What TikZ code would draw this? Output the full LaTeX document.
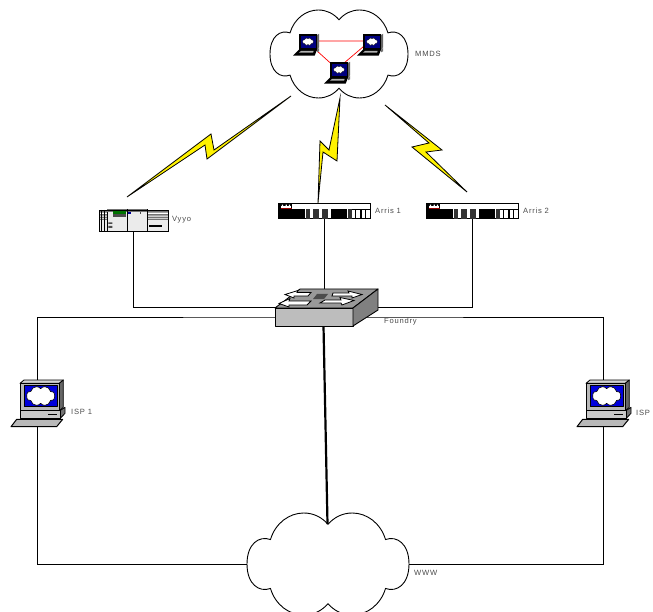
\documentclass[tikz,border=0pt]{standalone}
\usepackage{fontspec}
\setmainfont{Liberation Sans}[LetterSpace=10]
\definecolor{swtop}{gray}{0.6}
\definecolor{swfront}{gray}{0.74}
\definecolor{swside}{gray}{0.5}
\definecolor{pcgrey}{gray}{0.72}
\definecolor{scr}{RGB}{0,0,220}
\definecolor{labelc}{gray}{0.3}
\newcommand{\cloudoutline}{%
  \draw[fill=white]
      (0,-.78) .. controls (.08,-.92) and (.18,-1) .. (.30,-1)
      .. controls (.48,-1) and (.65,-.8) .. (.71,-.48)
      .. controls (.85,-.56) and (1,-.4) .. (1,0)
      .. controls (1,.4) and (.85,.56) .. (.71,.48)
      .. controls (.65,.8) and (.48,1) .. (.30,1)
      .. controls (.18,1) and (.08,.92) .. (0,.78)
      .. controls (-.08,.92) and (-.18,1) .. (-.30,1)
      .. controls (-.48,1) and (-.65,.8) .. (-.71,.48)
      .. controls (-.85,.56) and (-1,.4) .. (-1,0)
      .. controls (-1,-.4) and (-.85,-.56) .. (-.71,-.48)
      .. controls (-.65,-.8) and (-.48,-1) .. (-.30,-1)
      .. controls (-.18,-1) and (-.08,-.92) .. (0,-.78) -- cycle;
}
\tikzset{
  box/.style={inner sep=0pt,outer sep=0pt,minimum width=#1},
  lbl/.style={anchor=west,inner sep=0pt,text=labelc,font=\fontsize{7.6}{9}\selectfont},
  wire/.style={line width=0.65pt,black},
  bolt/.style={draw=black,fill=yellow,line width=0.8pt,line join=miter,miter limit=20},
  cloudicon/.pic={\cloudoutline},
  switchicon/.pic={
    \draw[line width=0.9pt,fill=swtop,line join=round] (0,19) -- (25,0) -- (103,0) -- (78,19) -- cycle;
    \draw[line width=0.9pt,fill=swfront,line join=round] (0,19) rectangle (78,37);
    \draw[line width=0.9pt,fill=swside,line join=round] (78,19) -- (103,0) -- (103,21) -- (78,37) -- cycle;
    \fill[black!70] (42,5) -- (53,5) -- (49,10) -- (38,10) -- cycle;
    \draw[fill=white,line width=0.8pt,line join=miter]
      (58,4) -- (74,4) -- (73,2) -- (87,5.5) -- (77,9) -- (77,7) -- (57,7) -- cycle;
    \draw[fill=white,line width=0.8pt,line join=miter]
      (36,3.5) -- (22,3.5) -- (23,1.5) -- (10,5.5) -- (19,9) -- (19,7) -- (33,7) -- cycle;
    \draw[fill=white,line width=0.8pt,line join=miter]
      (50,11) -- (66,11) -- (65,8.5) -- (79,11.5) -- (67,16) -- (66,14) -- (45,14) -- cycle;
    \draw[fill=white,line width=0.8pt,line join=miter]
      (28,12) -- (14,12) -- (15,9.5) -- (4,14.5) -- (14,18) -- (14,16) -- (32,16) -- (36,12) -- cycle;
  },
  laptopicon/.pic={
    \begin{scope}[scale=1/3]
      \fill[black!60] (72,3) -- (78,0) -- (78,40) -- (72,47) -- cycle;
      \fill[black] (18,0) rectangle (72,47);
      \fill[blue!50!black] (23,5) rectangle (68,42);
      \begin{scope}[shift={(45,23)},xscale=16,yscale=11,line width=0.3pt]\cloudoutline\end{scope}
      \fill[black!55] (72,47) -- (78,42) -- (78,52) -- (72,55) -- cycle;
      \fill[black] (0,65) -- (18,47) -- (72,47) -- (65,65) -- cycle;
      \fill[white!70!black] (24,51) -- (62,51) -- (60,56) -- (18,56) -- cycle;
    \end{scope}
  },
  pcicon/.pic={
    \begin{scope}[scale=1/3,shift={(-33,-30)},line join=round]
      \draw[line width=0.8pt,fill=pcgrey!60] (60,40) -- (72,30) -- (190,30) -- (178,40) -- cycle;
      \draw[line width=0.8pt,fill=black!60] (178,40) -- (190,30) -- (190,112) -- (178,122) -- cycle;
      \draw[line width=0.8pt,fill=pcgrey] (60,40) rectangle (178,122);
      \draw[line width=1pt,fill=scr] (72,46) rectangle (172,110);
      \begin{scope}[shift={(122,78)},xscale=42,yscale=28,line width=0.6pt]\cloudoutline\end{scope}
      \draw[line width=0.8pt,fill=black!55] (180,122) -- (195,112) -- (195,130) -- (180,146) -- cycle;
      \draw[line width=0.8pt,fill=pcgrey!75] (60,122) rectangle (180,146);
      \draw[line width=0.8pt] (145,134) -- (170,134);
      \draw[line width=1pt,fill=pcgrey] (33,170) -- (50,148) -- (188,148) -- (170,170) -- cycle;
    \end{scope}
  },
  arrisicon/.pic={
    \begin{scope}[scale=1/3,shift={(-290,-341)}]
      \draw[line width=0.8pt,fill=white] (290,341) rectangle (565,388);
      \fill[black] (290,360) rectangle (370,388);
      \fill[black!80] (372,360) rectangle (384,388);
      \fill[black!80] (393,360) rectangle (410,388);
      \fill[black!80] (420,360) rectangle (438,388);
      \fill[black] (447,360) rectangle (495,388);
      \fill[black!80] (497,360) rectangle (510,388);
      \draw[line width=0.6pt] (510,360) -- (565,360);
      \draw[line width=0.7pt] (522,360) rectangle (535,388) (538,360) rectangle (550,388) (552,360) rectangle (565,388);
      \fill[black] (292,343) rectangle (330,360);
      \fill[white] (297,350) rectangle (328,355);
      \fill[white] (300,346) rectangle (304,350) (311,346) rectangle (315,350) (321,346) rectangle (325,350);
      \fill[red!60!black] (296,355) rectangle (329,358);
    \end{scope}
  },
  vyyoicon/.pic={
    \begin{scope}[scale=1/3,shift={(-28,-358)},line width=0.6pt]
      \draw[line width=0.8pt,fill=black!8] (28,361) rectangle (235,425);
      \fill[black!55] (28,364) rectangle (235,390);
      \fill[white] (28,369) rectangle (235,373) (28,378) rectangle (235,381) (28,386) rectangle (235,388);
      \draw (36,361) -- (36,425) (45,361) -- (45,425);
      \fill[black!8] (172,390) rectangle (235,425);
      \draw[line width=0.8pt,fill=black!8] (52,358) rectangle (172,425);
      \fill[black!55] (52,358) rectangle (172,366);
      \draw[line width=0.8pt] (112,358) -- (112,425);
      \fill[green!45!black] (70,365) rectangle (108,374);
      \fill[black!70] (70,374) rectangle (108,381);
      \fill[blue!60!black] (115,367) rectangle (124,373);
      \fill[black!70] (152,366) rectangle (155,373);
      \fill[black!70] (56,398) rectangle (68,403) (56,409) rectangle (68,415);
      \fill[black] (178,405) rectangle (216,412);
      \draw[line width=0.8pt] (28,361) rectangle (235,425);
    \end{scope}
  }
}
\begin{document}
\begin{tikzpicture}[x=1pt,y=-1pt]
\useasboundingbox (0,0) rectangle (653,612);
\clip (0,0) rectangle (653,612);
\fill[white] (0,0) rectangle (653,612);
% invisible anchor nodes
\node[box=138pt,minimum height=88pt] (mmds) at (339,54) {};
\node[box=162pt,minimum height=102pt] (www) at (328,564) {};
\node[box=103pt,minimum height=37pt] (sw) at (326.5,307.5) {};
\node[box=69pt,minimum height=23pt] (vyyo) at (133.5,220.5) {};
\node[box=92pt,minimum height=16pt] (arris1) at (324.5,211) {};
\node[box=92pt,minimum height=16pt] (arris2) at (472.5,211) {};
\node[box=53pt,minimum height=47pt] (isp1) at (37.5,403.5) {};
\node[box=53pt,minimum height=47pt] (isp2) at (603.5,403.5) {};
\node[box=26pt,minimum height=14pt] (lap1) at (306,41) {};
\node[box=26pt,minimum height=14pt] (lap2) at (370,41) {};
\node[box=26pt,minimum height=14pt] (lap3) at (337,69) {};
\coordinate (hub) at (326,317);
\coordinate (swfoot) at (323.5,326);
\coordinate (wwwnotch) at (327.5,524);
% connectors
\draw[wire] (vyyo.south) |- (sw.west);
\draw[wire] (arris2.south) |- (sw.east);
\draw[wire] (arris1.south) -- (arris1.south |- sw.north);
\draw[wire] (isp1.north) |- (hub) -| (isp2.north);
\draw[wire] (isp1.south) |- (www.west);
\draw[wire] (isp2.south) |- (www.east);
% clouds
\pic[xscale=69,yscale=44,line width=0.9pt] at (mmds.center) {cloudicon};
\pic[xscale=81,yscale=51,line width=0.9pt] at (www.center) {cloudicon};
\draw[line width=2.2pt,black] (swfoot) -- (wwwnotch);
% mesh inside MMDS
\draw[red,line width=0.7pt] (lap1.center) -- (lap2.center) -- (lap3.center) -- cycle;
\pic at (lap1.north west) {laptopicon};
\pic at (lap2.north west) {laptopicon};
\pic at (lap3.north west) {laptopicon};
% wireless bolts
\draw[bolt] (127,197) -- (211,134) -- (214,150) -- (291,96) -- (207,159) -- (205,145) -- cycle;
\draw[bolt] (318,203) -- (320,141) -- (329,150) -- (340,98) -- (337,161) -- (323,152) -- cycle;
\draw[bolt] (385,105) -- (442,150) -- (426,152) -- (467,192) -- (412,147) -- (429,143) -- cycle;
% devices
\pic at (vyyo.north west) {vyyoicon};
\pic at (arris1.north west) {arrisicon};
\pic at (arris2.north west) {arrisicon};
\pic at (sw.north west) {switchicon};
\pic at (isp1.north west) {pcicon};
\pic at (isp2.north west) {pcicon};
% labels
\node[lbl] (tmmds) at (415,54) {MMDS};
\node[lbl] (tvyyo) at (172,220) {Vyyo};
\node[lbl] (tarris1) at (375,211) {Arris 1};
\node[lbl] (tarris2) at (523,211) {Arris 2};
\node[lbl] (tfoundry) at (384,322) {Foundry};
\node[lbl] (tisp1) at (71,412) {ISP 1};
\node[lbl] (tisp2) at (636,413) {ISP};
\node[lbl] (twww) at (414,573) {WWW};
\end{tikzpicture}
\end{document}
